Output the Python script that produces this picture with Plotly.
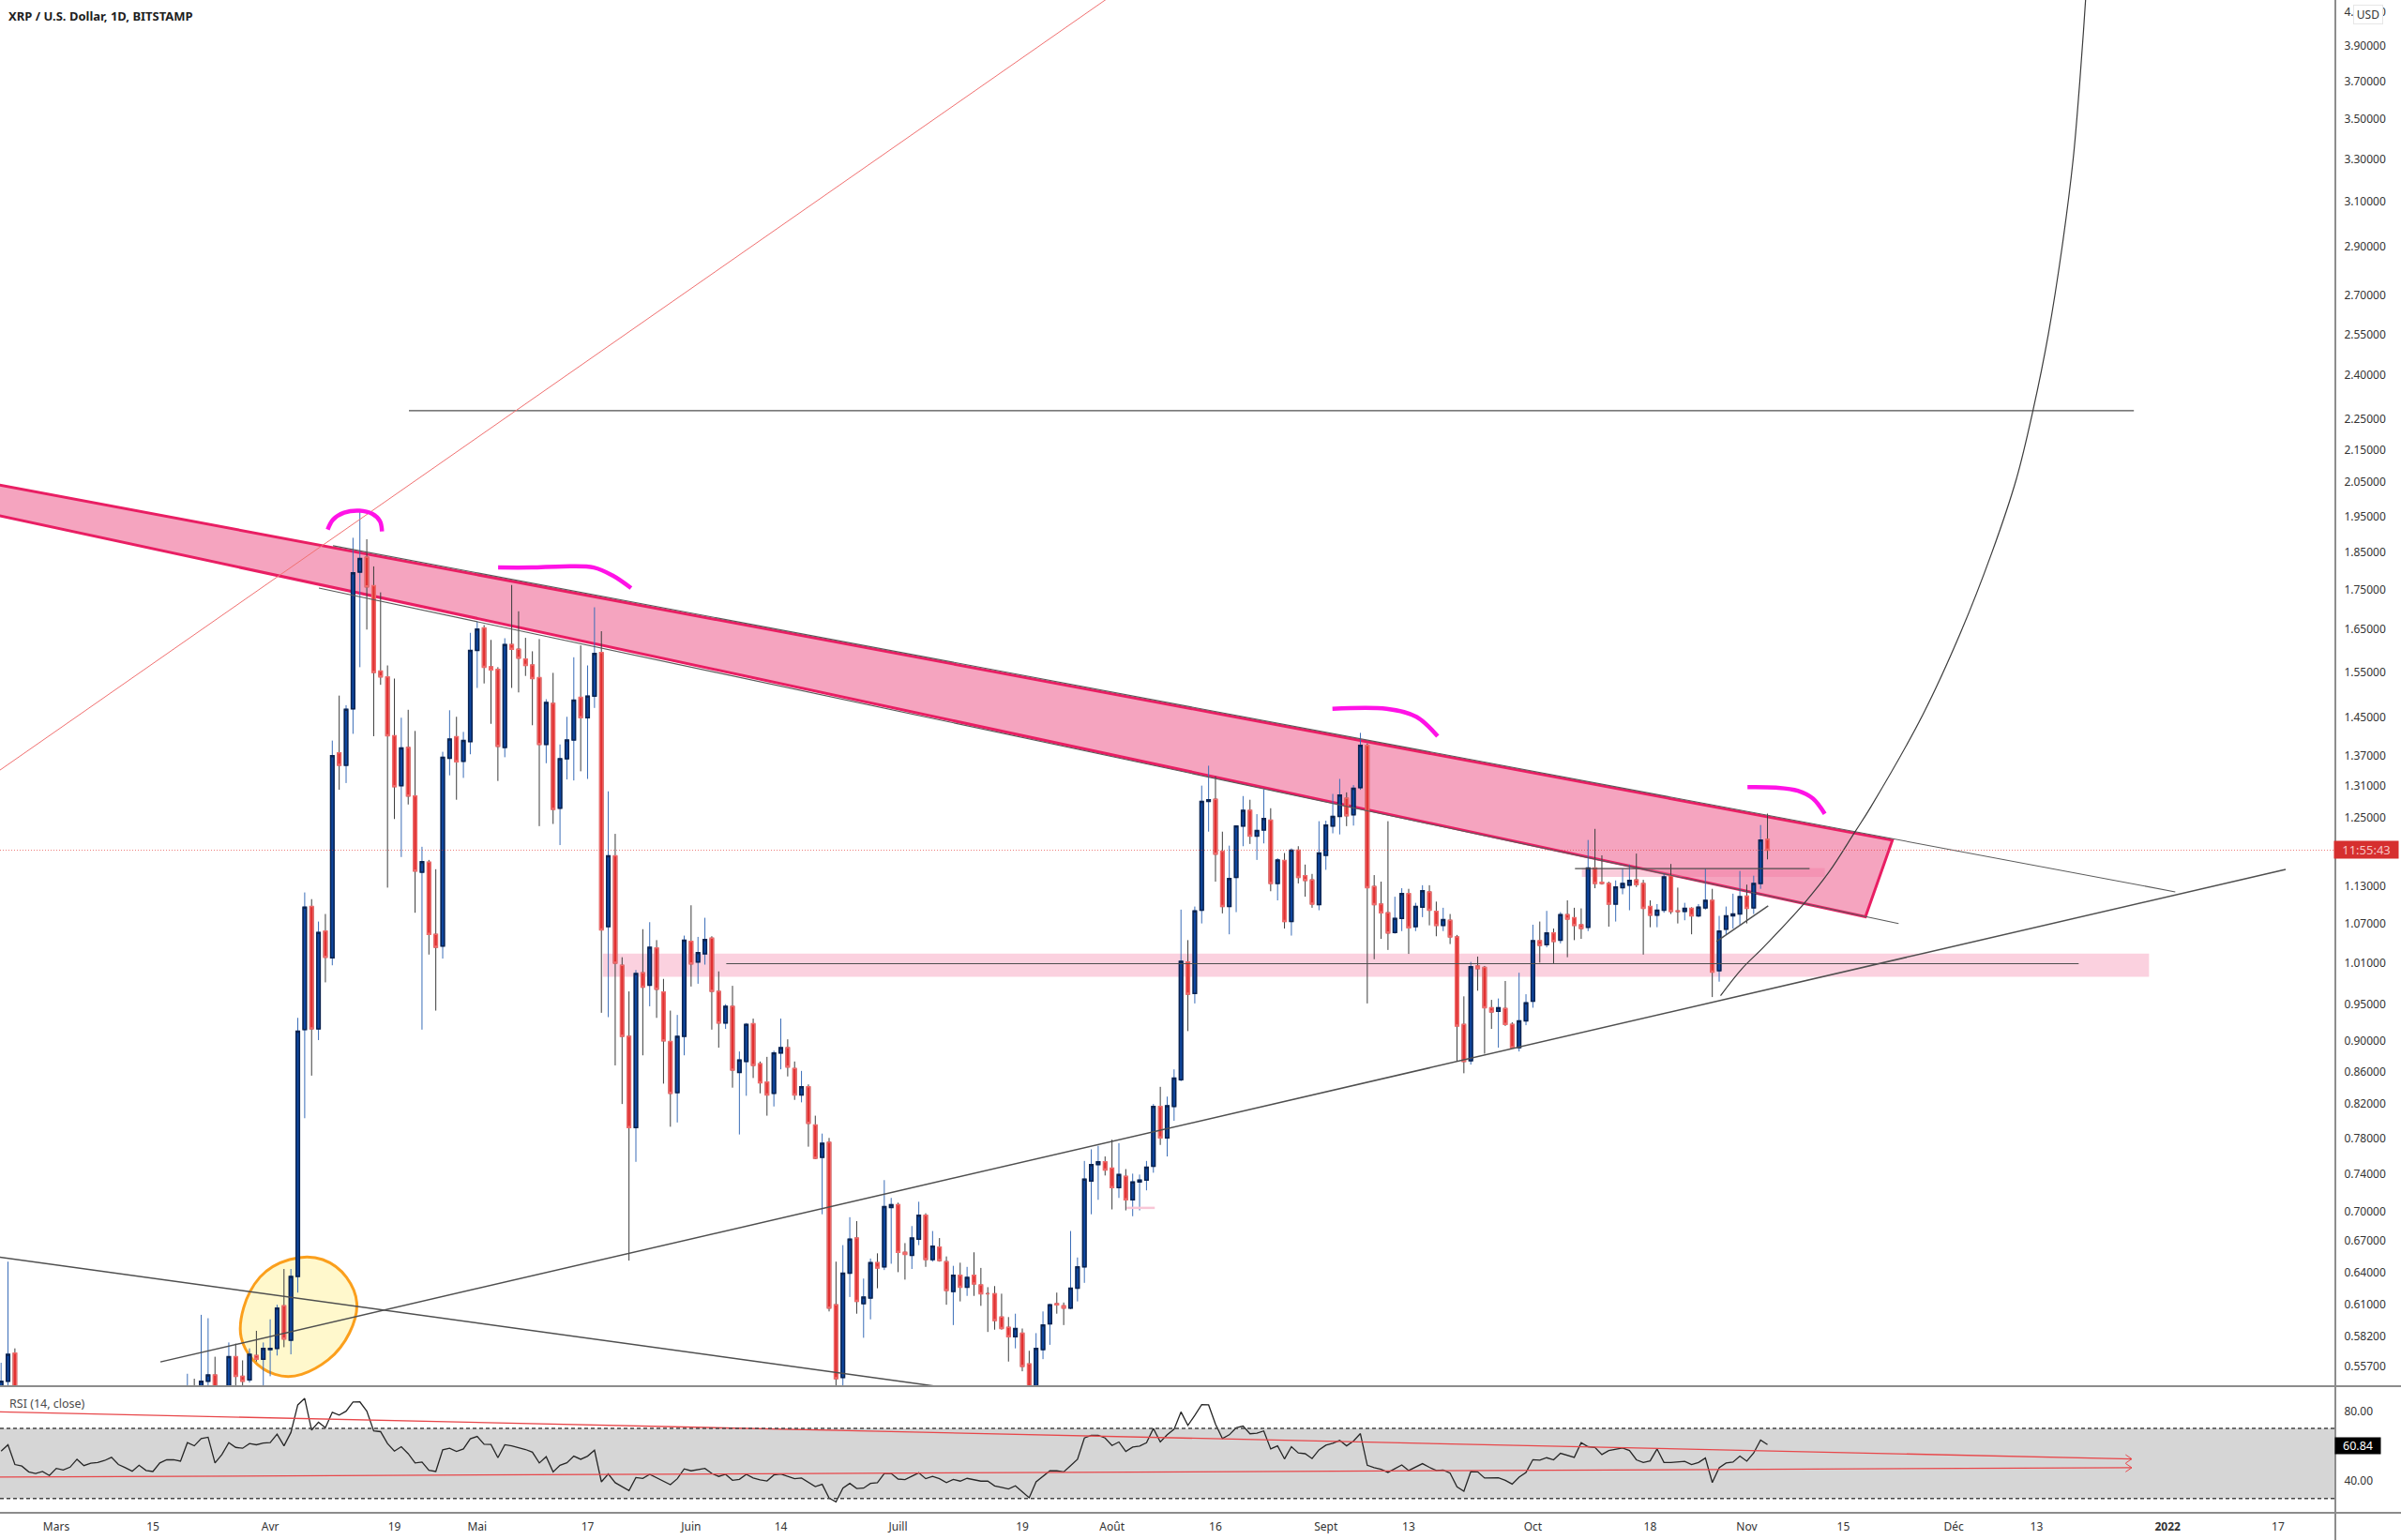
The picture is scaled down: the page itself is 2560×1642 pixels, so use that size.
import math

import numpy as np
import pandas as pd
import plotly.graph_objects as go
from plotly.subplots import make_subplots

# daily candles, 2021-02-21 to 2021-11-05, None where the bar sits below the pane
open_px = [
    .52, .545, .568,
    None, None, None, None, None, None, None, None, None, None, None, None,
    None, None, None, None, None, None, None, None, None, None, None, None,
    .52, .53, .53, .545, .55, None,
    .53, .565, .549, .546, .566, .563, .571, .572, .609, .579,
    .636, .915, 1.097, .916, 1.058, 1.017, 1.376, 1.351, 1.468, 1.796,
    1.836, 1.76, 1.552, 1.539, 1.411, 1.311, 1.387, 1.291, 1.154, 1.171,
    1.053, 1.035, 1.365, 1.409, 1.359, 1.399, 1.6, 1.654, 1.562, 1.556,
    1.387, 1.614, 1.603, 1.58, 1.566, 1.537, 1.393, 1.48, 1.268, 1.364,
    1.402, 1.493, 1.449, 1.496, 1.595, 1.065, 1.182, 1.006, .906, .792,
    .995, .977, 1.032, .967, .899, .834, .906, 1.042, 1.011, 1.023,
    1.047, .968, .924, .947, .859, .873, .923, .87, .847, .833,
    .884, .891, .864, .831, .841, .795, .758, .775, .61, .548,
    .639, .673, .611, .616, .649, .645, .704, .707, .659, .656,
    .672, .696, .652, .664, .65, .622, .637, .626, .637, .628,
    .62, .62, .599, .59, .582, .585, .559, .53, .571, .593,
    .611, .609, .607, .625, .645, .732, .75, .753, .746, .725,
    .737, .712, .731, .733, .748, .817, .78, .817, .85, 1.011,
    .965, 1.091, 1.281, 1.285, 1.19, 1.097, 1.145, 1.235, 1.264, 1.217,
    1.228, 1.246, 1.135, 1.174, 1.073, 1.192, 1.148, 1.141, 1.1, 1.183,
    1.235, 1.253, 1.287, 1.256, 1.307, 1.391, 1.13, 1.101, 1.087, 1.056,
    1.078, 1.118, 1.065, 1.096, 1.121, 1.089, 1.067, 1.075, 1.049, .922,
    .874, 1.005, 1.003, .945, .94, .944, .922, .891, .927, .954,
    1.043, 1.037, 1.055, 1.044, 1.084, 1.079, 1.068, 1.064, 1.161, 1.137,
    1.135, 1.101, 1.128, 1.132, 1.141, 1.135, 1.097, 1.083, 1.091, 1.148,
    1.09, 1.089, 1.094, 1.082, 1.095, 1.107, .998, 1.061, 1.082, 1.085,
    1.114, 1.095, 1.135, 1.211,
]
high_px = [
    .56, .65, .572,
    None, None, None, None, None, None, None, None, None, None, None, None,
    None, None, None, None, None, None, None, None, None, None, None, None,
    .551, .547, .601, .598, .565, None,
    .577, .576, .562, .572, .587, .577, .597, .61, .643, .643,
    .931, 1.12, 1.109, 1.073, 1.085, 1.401, 1.497, 1.476, 1.889, 1.967,
    1.885, 1.811, 1.743, 1.565, 1.535, 1.449, 1.466, 1.421, 1.198, 1.175,
    1.159, 1.378, 1.465, 1.451, 1.419, 1.642, 1.67, 1.661, 1.625, 1.561,
    1.629, 1.762, 1.695, 1.63, 1.598, 1.627, 1.489, 1.548, 1.393, 1.451,
    1.584, 1.612, 1.565, 1.705, 1.646, 1.3, 1.221, 1.018, .968, .999,
    1.061, 1.072, 1.044, .986, .941, .935, 1.051, 1.099, 1.049, 1.079,
    1.05, .997, .95, .976, .886, .924, .93, .873, .879, .887,
    .93, .902, .873, .861, .844, .806, .785, .78, .65, .666,
    .694, .69, .634, .653, .658, .733, .714, .709, .668, .685,
    .71, .698, .68, .673, .655, .646, .649, .645, .659, .644,
    .626, .627, .62, .599, .602, .589, .57, .585, .604, .611,
    .621, .612, .68, .654, .754, .767, .771, .759, .778, .774,
    .745, .74, .739, .754, .82, .841, .829, .863, 1.092, 1.044,
    1.097, 1.311, 1.35, 1.329, 1.225, 1.2, 1.235, 1.291, 1.284, 1.257,
    1.304, 1.268, 1.178, 1.187, 1.195, 1.199, 1.167, 1.151, 1.244, 1.245,
    1.295, 1.324, 1.298, 1.312, 1.417, 1.395, 1.149, 1.138, 1.244, 1.113,
    1.127, 1.126, 1.103, 1.132, 1.132, 1.105, 1.095, 1.085, 1.052, .961,
    1.011, 1.019, 1.005, .956, .958, .983, .925, .995, .964, 1.068,
    1.073, 1.09, 1.062, 1.088, 1.107, 1.095, 1.094, 1.21, 1.23, 1.183,
    1.138, 1.14, 1.16, 1.167, 1.186, 1.141, 1.107, 1.101, 1.151, 1.168,
    1.128, 1.103, 1.096, 1.101, 1.16, 1.126, 1.082, 1.097, 1.118, 1.156,
    1.133, 1.148, 1.237, 1.258,
]
low_px = [
    .51, .53, .52,
    None, None, None, None, None, None, None, None, None, None, None, None,
    None, None, None, None, None, None, None, None, None, None, None, None,
    .51, .51, .52, .53, .52, None,
    .52, .541, .53, .544, .561, .541, .549, .566, .573, .567,
    .621, .803, .855, .901, .981, 1.006, 1.303, 1.316, 1.415, 1.561,
    1.65, 1.41, 1.521, 1.128, 1.248, 1.18, 1.275, 1.087, .915, 1.022,
    .941, 1.016, 1.331, 1.284, 1.326, 1.373, 1.514, 1.524, 1.436, 1.32,
    1.367, 1.514, 1.504, 1.541, 1.433, 1.235, 1.355, 1.239, 1.201, 1.323,
    1.321, 1.339, 1.324, 1.47, .938, .932, .868, .82, .651, .753,
    .881, .947, .931, .845, .793, .798, .881, .975, .979, 1.007,
    .915, .891, .916, .84, .784, .83, .852, .833, .806, .817,
    .863, .854, .825, .822, .77, .756, .697, .604, .53, .53,
    .617, .602, .581, .597, .625, .642, .648, .64, .633, .643,
    .666, .645, .65, .65, .61, .592, .613, .618, .618, .609,
    .586, .588, .588, .561, .572, .553, .52, .52, .563, .575,
    .602, .592, .606, .613, .63, .697, .712, .738, .702, .714,
    .701, .695, .701, .722, .741, .772, .759, .8, .848, .913,
    .951, 1.07, 1.225, 1.138, 1.086, 1.053, 1.088, 1.199, 1.203, 1.175,
    1.204, 1.122, 1.107, 1.062, 1.051, 1.135, 1.113, 1.095, 1.091, 1.158,
    1.222, 1.22, 1.235, 1.236, 1.303, .951, 1.015, 1.046, 1.029, 1.054,
    1.058, 1.023, 1.058, 1.08, 1.067, 1.05, 1.058, 1.038, .873, .858,
    .869, .969, .883, .916, .891, .92, .891, .886, .921, .945,
    1.01, 1.033, 1.008, 1.039, 1.018, 1.044, 1.046, 1.058, 1.127, 1.133,
    1.065, 1.073, 1.117, 1.091, 1.129, 1.022, 1.064, 1.064, 1.087, 1.085,
    1.07, 1.075, 1.053, 1.08, 1.092, .96, .982, 1.053, 1.062, 1.068,
    1.07, 1.085, 1.126, 1.176,
]
close_px = [
    .545, .567, .53,
    None, None, None, None, None, None, None, None, None, None, None, None,
    None, None, None, None, None, None, None, None, None, None, None, None,
    .53, .52, .545, .55, .53, None,
    .565, .549, .545, .567, .563, .572, .572, .607, .58, .636,
    .913, 1.096, .916, 1.056, 1.018, 1.37, 1.351, 1.467, 1.794, 1.832,
    1.757, 1.549, 1.539, 1.411, 1.309, 1.386, 1.291, 1.156, 1.172, 1.053,
    1.033, 1.367, 1.404, 1.358, 1.401, 1.6, 1.651, 1.561, 1.555, 1.389,
    1.614, 1.603, 1.582, 1.565, 1.535, 1.393, 1.482, 1.266, 1.364, 1.402,
    1.487, 1.449, 1.496, 1.593, 1.06, 1.182, 1.009, .906, .792, .994,
    .974, 1.033, .971, .9, .833, .906, 1.044, 1.008, 1.025, 1.045,
    .968, .924, .947, .862, .875, .922, .868, .846, .831, .884,
    .891, .866, .831, .841, .797, .757, .774, .607, .547, .639,
    .672, .613, .617, .649, .644, .705, .707, .659, .657, .673,
    .696, .652, .665, .651, .623, .637, .626, .635, .629, .62,
    .62, .596, .589, .582, .589, .557, .53, .572, .592, .61,
    .61, .607, .625, .645, .734, .75, .753, .744, .725, .739,
    .712, .731, .733, .747, .817, .78, .818, .852, 1.012, .964,
    1.09, 1.281, 1.284, 1.185, 1.097, 1.143, 1.235, 1.264, 1.217, 1.227,
    1.249, 1.135, 1.175, 1.073, 1.192, 1.145, 1.14, 1.101, 1.187, 1.237,
    1.253, 1.293, 1.254, 1.306, 1.391, 1.128, 1.1, 1.087, 1.055, 1.078,
    1.118, 1.063, 1.097, 1.123, 1.091, 1.067, 1.076, 1.049, .92, .873,
    1.004, 1.001, .945, .939, .945, .922, .891, .927, .952, 1.043,
    1.036, 1.055, 1.042, 1.084, 1.077, 1.067, 1.062, 1.161, 1.135, 1.135,
    1.101, 1.129, 1.135, 1.14, 1.133, 1.094, 1.083, 1.091, 1.146, 1.089,
    1.089, 1.094, 1.082, 1.096, 1.107, .996, 1.058, 1.082, 1.085, 1.113,
    1.094, 1.135, 1.21, 1.192,
]

rsi_values = [
    57.1, 60.7, 49.4, 48.5, 45.2, 44.3, 45.4, 43.1, 47.2, 46.3,
    47.9, 52.4, 48.8, 50.1, 50.6, 51.7, 53.5, 49.4, 47.6, 45.6,
    49.0, 46.0, 45.4, 50.3, 52.1, 52.2, 51.3, 61.9, 60.1, 64.3,
    65.0, 50.3, 55.1, 61.9, 59.2, 58.7, 61.4, 60.7, 61.7, 61.9,
    66.8, 60.1, 67.7, 83.5, 87.2, 69.1, 73.6, 70.5, 79.3, 77.7,
    79.9, 85.1, 85.2, 79.9, 68.6, 68.2, 61.4, 57.1, 59.6, 55.6,
    50.3, 50.8, 46.1, 45.4, 57.8, 58.7, 56.9, 58.3, 64.1, 65.5,
    61.0, 60.9, 53.3, 60.7, 60.1, 59.2, 58.0, 56.5, 50.3, 53.9,
    45.2, 49.0, 50.4, 54.2, 52.4, 54.2, 57.6, 39.5, 44.0, 39.0,
    36.8, 34.5, 42.0, 41.5, 43.8, 41.8, 39.9, 37.9, 41.3, 46.9,
    45.8, 46.3, 47.2, 44.3, 42.6, 43.8, 40.4, 40.9, 43.8, 41.7,
    40.6, 40.0, 43.4, 44.0, 42.7, 41.3, 41.7, 39.3, 36.8, 38.1,
    30.2, 28.0, 35.9,
    38.6, 35.7, 35.9, 38.6, 39.0, 44.3, 44.3, 41.1, 40.8, 42.6,
    44.7, 41.3, 42.6, 41.3, 39.1, 40.9, 39.9, 41.5, 40.9, 39.9,
    39.9, 37.2, 36.3, 35.4, 37.2, 33.8, 30.4, 39.5, 42.7, 45.8,
    45.8, 45.2, 48.8, 52.4, 64.6, 66.1, 66.1, 64.6, 60.3, 62.3,
    56.9, 59.4, 60.0, 61.9, 70.0, 62.3, 66.4, 69.6, 79.5, 71.8,
    77.5, 83.6, 83.5, 72.5, 64.3, 66.4, 70.4, 71.4, 67.0, 67.3,
    68.6, 58.3, 60.1, 52.6, 59.6, 56.0, 55.6, 52.8, 57.8, 60.5,
    61.6, 63.2, 60.1, 62.8, 67.1, 49.0, 47.6, 46.7, 44.9, 47.0,
    49.2, 46.0, 47.8, 49.9, 47.8, 46.0, 46.3, 44.5, 36.6, 34.1,
    45.4, 45.2, 41.7, 41.7, 41.8, 40.4, 38.2, 42.2, 44.9, 52.2,
    51.9, 53.3, 52.1, 55.8, 54.8, 53.5, 61.9, 59.6, 59.2, 55.1,
    57.4, 58.0, 58.9, 57.4, 52.1, 50.6, 51.5, 58.3, 50.6, 50.6, 50.9, 51.2,
    49.4, 50.6, 53.1, 39.1, 47.6, 50.3, 50.8, 54.2, 51.3, 56.0, 63.4, 60.84,
]

# axis labels
price_ticks = [4.1, 3.9, 3.7, 3.5, 3.3, 3.1, 2.9, 2.7, 2.55, 2.4, 2.25, 2.15, 2.05, 1.95, 1.85,
               1.75, 1.65, 1.55, 1.45, 1.37, 1.31, 1.25, 1.13, 1.07, 1.01, .95, .9, .86, .82,
               .78, .74, .7, .67, .64, .61, .582, .557]
date_ticks = ["2021-03-01", "2021-03-15", "2021-04-01", "2021-04-19", "2021-05-01", "2021-05-17",
              "2021-06-01", "2021-06-14", "2021-07-01", "2021-07-19", "2021-08-01", "2021-08-16",
              "2021-09-01", "2021-09-13", "2021-10-01", "2021-10-18", "2021-11-01", "2021-11-15",
              "2021-12-01", "2021-12-13", "2022-01-01", "2022-01-17"]
date_labels = ["Mars", "15", "Avr", "19", "Mai", "17", "Juin", "14", "Juill", "19", "Août", "16",
               "Sept", "13", "Oct", "18", "Nov", "15", "Déc", "13", "<b>2022</b>", "17"]
rsi_ticks = [80, 40]

# drawings: x is days after 2021-03-01, y is price (or RSI below)
band_top_day, band_top_px = [-10, 266.1], [2.0485, 1.2096]
band_bot_day, band_bot_px = [262.2, -10], [1.0807, 1.9588]
res_lo_day, res_lo_px = [38.06, 267], [1.754, 1.0697]
res_up_day, res_up_px = [40.1, 307.1], [1.867, 1.121]
support_day, support_px = [15.09, 323.1], [.5607, 1.1587]
old_trend_day, old_trend_px = [-10, 141.4], [.656, .5305]
top_line_day, top_line_px = [51.1, 301.1], [2.278, 2.278]
fan_day, fan_px = [-10, 153.6], [1.324, 4.22]
mid_line_day, mid_line_px = [97.1, 293.1], [1.0084, 1.0084]
box_line_day, box_line_px = [220.1, 254.1], [1.16, 1.16]
short_day, short_px = [240.6, 248.1], [1.042, 1.098]
tick_day, tick_px = [155.1, 159.2], [.7036, .7036]

arc_day = [241.2, 244.3, 247.4, 253.3, 256.9, 260.6, 263.0, 270.5, 276, 280.5, 284.1, 286.5,
           288.7, 290.7, 292.3, 293.2, 293.8, 294.1, 294.2]
arc_px = [.962, 1.001, 1.033, 1.102, 1.154, 1.223, 1.271, 1.455, 1.643, 1.847, 2.062, 2.281,
          2.549, 2.9, 3.3, 3.67, 3.987, 4.173, 4.243]

mark_a_day = [39.33, 40.1, 41.7, 43.95, 45.77, 46.9, 47.2]
mark_a_px = [1.912, 1.94, 1.96, 1.966, 1.957, 1.936, 1.907]
mark_b_day = [64.03, 68.88, 73.4, 77.9, 80.6, 83.3]
mark_b_px = [1.808, 1.808, 1.811, 1.808, 1.787, 1.754]
mark_c_day = [184.95, 192.8, 197.1, 200.2]
mark_c_px = [1.468, 1.468, 1.451, 1.41]
mark_d_day = [245.1, 249.2, 252.4, 254.6, 256.3]
mark_d_px = [1.308, 1.307, 1.301, 1.286, 1.2575]

circle_day = [36.5, 40.7, 43.4, 43.7, 41.3, 37.5, 33.6, 29.8, 27.2, 26.4, 27.9, 31.1]
circle_px = [.657, .647, .6236, .6, .571, .554, .547, .554, .571, .5914, .6236, .647]

zone_day, zone_px = [79.2, 303.3], [.989, 1.0234]
box_day, box_px = [221.1, 256.3], [1.146, 1.161]

rsi_up_day, rsi_up_val = [-8.2, 300.8], [79.5, 52.6]
rsi_lo_day, rsi_lo_val = [-8.2, 300.8], [42.2, 47.6]

X_RANGE = (-8.16, 330.3)
BLUE, BLUE_EDGE, BLUE_WICK = "#0e47a1", "#0a2350", "#3a6db8"
RED, RED_EDGE, RED_WICK = "#e03131", "#ef6a6a", "#3c3c3c"
PINK, PINK_EDGE = "#f5a4bf", "#e91e63"
GRAY = "#4f4f4f"
FONT = "Noto Sans"

START = pd.Timestamp("2021-03-01")


def day(d):
    return START + pd.Timedelta(days=d)


def days(values):
    return [day(d) for d in values]


def path_x(d):
    return day(d).strftime("%Y-%m-%d_%H:%M:%S")


def add_line(fig, xs, ys, color=GRAY, width=1.5, row=1, shape="linear", dash=None):
    fig.add_trace(go.Scatter(x=days(xs), y=ys, mode="lines", hoverinfo="skip", showlegend=False,
                             line=dict(color=color, width=width, shape=shape, dash=dash)),
                  row=row, col=1)


def px(x):
    return x / 2490


def py(y):
    return (1613 - y) / 1613


dates = pd.date_range("2021-02-21", periods=len(open_px))
rsi_dates = pd.date_range("2021-02-21", periods=len(rsi_values))
o, h, l, c = [np.array(v, dtype=float) for v in (open_px, high_px, low_px, close_px)]

fig = make_subplots(rows=2, cols=1, shared_xaxes=True, vertical_spacing=0, row_heights=[1478, 135])

# wicks, then the bodies on top with their own edge colour
fig.add_trace(go.Candlestick(x=dates, open=o, high=h, low=l, close=c, whiskerwidth=0,
                             hoverinfo="skip", showlegend=False,
                             increasing=dict(line=dict(color=BLUE_WICK, width=1), fillcolor=BLUE),
                             decreasing=dict(line=dict(color=RED_WICK, width=1), fillcolor=RED)),
              row=1, col=1)
fig.add_trace(go.Candlestick(x=dates, open=o, high=np.maximum(o, c), low=np.minimum(o, c), close=c,
                             whiskerwidth=0, hoverinfo="skip", showlegend=False,
                             increasing=dict(line=dict(color=BLUE_EDGE, width=1.5), fillcolor=BLUE),
                             decreasing=dict(line=dict(color=RED_EDGE, width=1.5), fillcolor=RED)),
              row=1, col=1)

add_line(fig, res_lo_day, res_lo_px, color="#5a5a5a", width=1.1)
add_line(fig, res_up_day, res_up_px, color="#5a5a5a", width=1.1)
add_line(fig, support_day, support_px)
add_line(fig, old_trend_day, old_trend_px)
add_line(fig, top_line_day, top_line_px, width=1.2)
add_line(fig, mid_line_day, mid_line_px, width=1)
add_line(fig, box_line_day, box_line_px, width=1.2)
add_line(fig, short_day, short_px)
add_line(fig, tick_day, tick_px, color="#f8c6d6", width=2.5)
add_line(fig, fan_day, fan_px, color="#f07070", width=1)
add_line(fig, arc_day, arc_px, color="#3c3c3c", width=1.2, shape="spline")
for xs, ys in [(mark_a_day, mark_a_px), (mark_b_day, mark_b_px), (mark_c_day, mark_c_px), (mark_d_day, mark_d_px)]:
    add_line(fig, xs, ys, color="#ff12e6", width=4.5, shape="spline")

# rsi pane
fig.add_shape(type="rect", xref="x2 domain", yref="y2", x0=0, x1=1, y0=30, y1=70, layer="below",
              fillcolor="#d6d6d6", line_width=0)
for level in (70, 30):
    fig.add_shape(type="line", xref="x2 domain", yref="y2", x0=0, x1=1, y0=level, y1=level,
                  line=dict(color="#444444", width=1.5, dash="4px,3px"))
fig.add_trace(go.Scatter(x=rsi_dates, y=rsi_values, mode="lines", hoverinfo="skip", showlegend=False,
                         line=dict(color="#262626", width=1.3)), row=2, col=1)
for xs, ys in [(rsi_up_day, rsi_up_val), (rsi_lo_day, rsi_lo_val)]:
    add_line(fig, xs, ys, color="#e8474a", width=1.3, row=2)
    add_line(fig, [xs[1] - .9, xs[1], xs[1] - .9], [ys[1] + 2.4, ys[1], ys[1] - 2.4],
             color="#e8474a", width=1, row=2)

# filled zones stay under the candles, so they go in as shapes
band_d = band_top_day + band_bot_day
band_p = band_top_px + band_bot_px
band_path = "M " + " L ".join(f"{path_x(d)},{p}" for d, p in zip(band_d, band_p)) + " Z"
fig.add_shape(type="path", xref="x", yref="y", path=band_path, layer="below",
              fillcolor=PINK, line=dict(color=PINK_EDGE, width=3))

fig.add_shape(type="rect", xref="x", yref="y", layer="below", x0=day(zone_day[0]), x1=day(zone_day[1]),
              y0=zone_px[0], y1=zone_px[1], fillcolor="#fbd1df", line_width=0)
fig.add_shape(type="rect", xref="x", yref="y", layer="below", x0=day(box_day[0]), x1=day(box_day[1]),
              y0=box_px[0], y1=box_px[1], fillcolor="rgba(242,120,160,0.38)", line_width=0)

# the hand drawn circle, smoothed through the midpoints of the read points
n = len(circle_day)
mid_d = [(circle_day[i] + circle_day[(i + 1) % n]) / 2 for i in range(n)]
mid_p = [math.sqrt(circle_px[i] * circle_px[(i + 1) % n]) for i in range(n)]
circle_path = f"M {path_x(mid_d[-1])},{mid_p[-1]}"
for i in range(n):
    circle_path += f" Q {path_x(circle_day[i])},{circle_px[i]} {path_x(mid_d[i])},{mid_p[i]}"
fig.add_shape(type="path", xref="x", yref="y", path=circle_path + " Z", layer="below",
              fillcolor="#fff8cc", line=dict(color="#fb9f1c", width=3))

# last price line
fig.add_shape(type="line", xref="x domain", yref="y", x0=0, x1=1, y0=close_px[-1], y1=close_px[-1],
              line=dict(color="rgba(229,57,53,0.65)", width=1, dash="1px,2px"))

# pane frame
for x0, y0, x1, y1 in [(0, 1478, 2560, 1478), (0, 1613, 2560, 1613), (2490, 0, 2490, 1642)]:
    fig.add_shape(type="line", xref="paper", yref="paper", x0=px(x0), x1=px(x1), y0=py(y0), y1=py(y1),
                  line=dict(color="#8c8c8c", width=2))


def note(text, x, y, size=12, color="#333333", anchor="left", **kw):
    fig.add_annotation(text=text, xref="paper", yref="paper", x=px(x), y=py(y), xanchor=anchor,
                       yanchor="middle", showarrow=False, font=dict(family=FONT, size=size, color=color), **kw)


note("<b>XRP / U.S. Dollar, 1D, BITSTAMP</b>", 7, 17, size=13, color="#1e1e1e")
note("RSI (14, close)", 8, 1496, size=12.5, color="#4a4a4a")
note("USD", 2525, 16, anchor="center", bgcolor="white", bordercolor="#e6e6e6", borderpad=2, width=26, height=15)
note("11:55:43", 2523, 906, anchor="center", color="#f7c4c4", bgcolor="#d62f2f", borderpad=1, size=13, width=66, height=16)
note("60.84", 2514, 1541, anchor="center", color="white", bgcolor="black", borderpad=1, size=12.5, width=46, height=15)

fig.update_yaxes(type="log", range=[math.log10(.541), math.log10(4.173)], side="right", showgrid=False,
                 zeroline=False, tickmode="array", tickvals=price_ticks,
                 ticktext=[f"{v:.5f}" for v in price_ticks], ticks="outside", ticklen=6,
                 tickcolor="rgba(0,0,0,0)", tickfont=dict(family=FONT, size=12, color="#333333"),
                 row=1, col=1)
fig.update_yaxes(range=[21.8, 94.2], side="right", showgrid=False, zeroline=False, tickmode="array",
                 tickvals=rsi_ticks, ticktext=[f"{v:.2f}" for v in rsi_ticks], ticks="outside", ticklen=6,
                 tickcolor="rgba(0,0,0,0)", tickfont=dict(family=FONT, size=12, color="#333333"),
                 row=2, col=1)
fig.update_xaxes(range=[day(X_RANGE[0]), day(X_RANGE[1])], showgrid=False, zeroline=False,
                 rangeslider_visible=False, showline=False)
fig.update_xaxes(tickmode="array", tickvals=date_ticks, ticktext=date_labels, ticks="outside", ticklen=4,
                 tickcolor="rgba(0,0,0,0)", tickangle=0, tickfont=dict(family=FONT, size=12, color="#333333"),
                 row=2, col=1)

fig.update_layout(width=2560, height=1642, margin=dict(l=0, r=70, t=0, b=29, pad=0),
                  paper_bgcolor="white", plot_bgcolor="white", showlegend=False, dragmode=False,
                  boxmode="overlay")

fig.write_html("out.html", config=dict(displayModeBar=False), post_script="document.body.style.margin='0';")
